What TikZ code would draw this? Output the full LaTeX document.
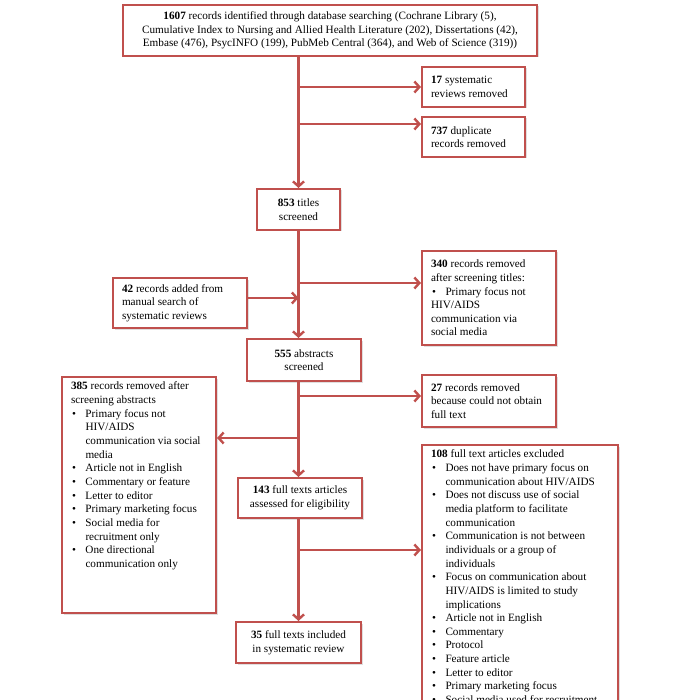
\documentclass[tikz,border=0pt]{standalone}
\usepackage{fontspec}
\setmainfont{Liberation Serif}
\usepackage{tikz}
\usetikzlibrary{arrows.meta, positioning, shadows}
\definecolor{prismared}{RGB}{192,80,77}
\newcommand{\bitem}{\par\hangindent=14.5pt\hangafter=1\noindent\makebox[14.5pt][l]{\hspace{1pt}\textbullet}}

\begin{document}
\begin{tikzpicture}[x=1pt, y=-1pt,
    box/.style={draw=prismared, line width=2pt, fill=white, inner xsep=9pt, inner ysep=5pt,
        drop shadow={shadow xshift=1.5pt, shadow yshift=-1.5pt, opacity=0.25},
        font=\fontsize{11.2}{13.65}\selectfont},
    leftbox/.style={box, align=flush left},
    midbox/.style={box, align=flush center},
    flow/.style={draw=prismared, line width=2.4pt, -{Straight Barb[length=5pt, width=11pt]}}]
    \useasboundingbox (0,0) rectangle (700,700);
    \clip (0,0) rectangle (700,700);

    % Identification
    \node[midbox, minimum width=414pt, minimum height=51pt] (records) at (330,30.5)
        {\textbf{1607} records identified through database searching (Cochrane Library (5),\\
         Cumulative Index to Nursing and Allied Health Literature (202), Dissertations (42),\\
         Embase (476), PsycINFO (199), PubMeb Central (364), and Web of Science (319))};
    \node[leftbox, text width=85pt, minimum height=40pt] (sysrev) at (473.5,87)
        {\textbf{17} systematic\\ reviews removed};
    \node[leftbox, text width=85pt, minimum height=40pt] (dup) at (473.5,137)
        {\textbf{737} duplicate\\ records removed};

    % Screening of titles
    \node[midbox, minimum width=83pt, minimum height=41pt] (titles) at (298.5,209.5)
        {\textbf{853} titles\\ screened};
    \node[leftbox, text width=116pt, minimum height=94pt] (titleout) at (489,298)
        {\textbf{340} records removed\\ after screening titles:
         \bitem Primary focus not\newline HIV/AIDS\newline communication via\newline social media};
    \node[leftbox, text width=116pt, minimum height=50pt] (manual) at (180,303)
        {\textbf{42} records added from\\ manual search of\\ systematic reviews};

    % Screening of abstracts
    \node[midbox, minimum width=114pt, minimum height=42pt] (abstracts) at (304,360)
        {\textbf{555} abstracts\\ screened};
    \node[leftbox, anchor=north] (absout) at (139,376)
        {\parbox[c][226pt][t]{136pt}{\raggedright\textbf{385} records removed after\\ screening abstracts
         \bitem Primary focus not\newline HIV/AIDS\newline communication via social\newline media
         \bitem Article not in English
         \bitem Commentary or feature
         \bitem Letter to editor
         \bitem Primary marketing focus
         \bitem Social media for\newline recruitment only
         \bitem One directional\newline communication only}};
    \node[leftbox, text width=116pt, minimum height=52pt] (nofull) at (489,401)
        {\textbf{27} records removed\\ because could not obtain\\ full text};

    % Eligibility
    \node[midbox, minimum width=124pt, minimum height=40pt] (fulltext) at (300,498)
        {\textbf{143} full texts articles\\ assessed for eligibility};
    \node[leftbox, anchor=north] (excluded) at (520,444)
        {\parbox[c][290pt][t]{178pt}{\raggedright\textbf{108} full text articles excluded
         \bitem Does not have primary focus on\newline communication about HIV/AIDS
         \bitem Does not discuss use of social\newline media platform to facilitate\newline communication
         \bitem Communication is not between\newline individuals or a group of\newline individuals
         \bitem Focus on communication about\newline HIV/AIDS is limited to study\newline implications
         \bitem Article not in English
         \bitem Commentary
         \bitem Protocol
         \bitem Feature article
         \bitem Letter to editor
         \bitem Primary marketing focus
         \bitem Social media used for recruitment}};

    % Included
    \node[midbox, minimum width=125pt, minimum height=41pt] (included) at (298.5,642.5)
        {\textbf{35} full texts included\\ in systematic review};

    % branch points
    \coordinate (sysin) at (sysrev.west);
    \coordinate (dupin) at ([yshift=13pt]dup.west);
    \coordinate (titlein) at ([yshift=15pt]titleout.west);
    \coordinate (manout) at ([yshift=5pt]manual.east);
    \coordinate (nofullin) at ([yshift=5pt]nofull.west);
    \coordinate (absin) at ([yshift=-62pt]absout.north east);
    \coordinate (exclin) at ([yshift=-106pt]excluded.north west);

    % main line
    \draw[flow] (records.south -| titles.north) -- (titles.north);
    \draw[flow] (titles.south) -- (titles.south |- abstracts.north);
    \draw[flow] (abstracts.south -| titles.south) -- (titles.south |- fulltext.north);
    \draw[flow] (fulltext.south -| titles.south) -- (titles.south |- included.north);

    % side arrows
    \draw[flow] (sysin -| titles.north) -- (sysin);
    \draw[flow] (dupin -| titles.north) -- (dupin);
    \draw[flow] (titlein -| titles.south) -- (titlein);
    \draw[flow] (manout) -- (manout -| titles.south);
    \draw[flow] (nofullin -| titles.south) -- (nofullin);
    \draw[flow] (absin -| titles.south) -- (absin);
    \draw[flow] (exclin -| titles.south) -- (exclin);
\end{tikzpicture}
\end{document}
